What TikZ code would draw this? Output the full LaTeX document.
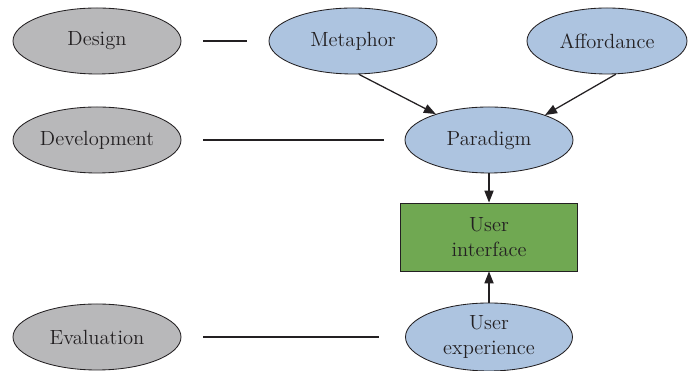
\documentclass[tikz,border=0pt]{standalone}
\usepackage{xcolor}
\usetikzlibrary{arrows.meta,shapes.geometric}
\definecolor{phasegray}{RGB}{184,184,186}
\definecolor{ideablue}{RGB}{173,196,224}
\definecolor{uigreen}{RGB}{112,168,82}
\definecolor{inkgray}{RGB}{35,32,34}

\begin{document}
\begin{tikzpicture}[
  elp/.style={ellipse, draw=inkgray, line width=0.6pt, inner sep=0pt, align=center, text=inkgray, font=\fontsize{14.6}{17.5}\selectfont, minimum width=4.2cm, minimum height=1.65cm},
  phase/.style={elp, fill=phasegray},
  idea/.style={elp, fill=ideablue},
  uibox/.style={draw=inkgray, line width=0.6pt, fill=uigreen, align=center, text=inkgray, font=\fontsize{14.6}{17.5}\selectfont, minimum width=4.425cm, minimum height=1.7cm, inner sep=0pt},
  arr/.style={-{Triangle[length=8.5pt, width=6.5pt]}, line width=0.9pt, draw=inkgray},
  lnk/.style={line width=0.9pt, draw=inkgray}
]
\useasboundingbox (0,0) rectangle (17.2,9.275);
\node[phase] (des) at (2.425,8.25)  {Design};
\node[phase] (dev) at (2.425,5.775) {Development};
\node[phase] (eva) at (2.425,0.85)  {Evaluation};
\node[idea] (meta) at (8.825,8.25) {Metaphor};
\node[idea, minimum width=4cm] (aff) at (15.175,8.25) {Affordance};
\node[idea] (para) at (12.225,5.775) {Paradigm};
\node[uibox] (ui) at (12.225,3.35) {User\\interface};
\node[idea, minimum width=4.175cm, minimum height=1.7cm] (ux) at (12.225,0.85) {User\\experience};
\draw[lnk, shorten <=0.55cm, shorten >=0.55cm] (des.east) -- (meta.west);
\draw[lnk, shorten <=0.55cm, shorten >=0.525cm] (dev.east) -- (para.west);
\draw[lnk, shorten <=0.55cm, shorten >=0.64cm] (eva.east) -- (ux.west);
\draw[arr] (meta.280) -- (para.154);
\draw[arr] (aff.285) -- (para.24);
\draw[arr] (para.south) -- (ui.north);
\draw[arr] (ux.north) -- (ui.south);
\end{tikzpicture}
\end{document}
